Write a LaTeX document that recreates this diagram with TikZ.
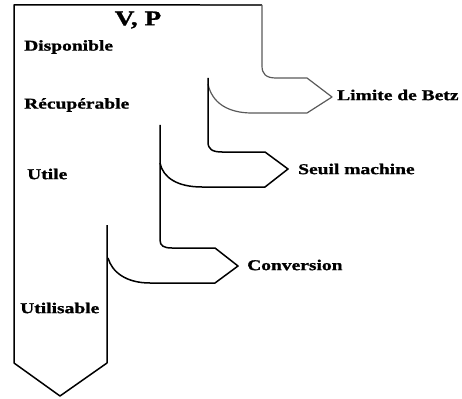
\documentclass[tikz,border=0pt]{standalone}
\usepackage{fontspec}
\newfontfamily\widefont[FakeStretch=1.3, BoldFeatures={FakeBold=1.2}]{Liberation Serif}
\begin{document}
\begin{tikzpicture}[x=1pt,y=-1pt,
  lbl/.style={font=\widefont\bfseries\fontsize{15}{16}\selectfont, inner sep=0pt, anchor=west},
  blk/.style={draw=black, line width=1.5pt, line join=round},
  gry/.style={draw=black!65, line width=1.2pt, line join=round}]
\useasboundingbox (0,0) rectangle (462,398);
% title and labels
\node[font=\widefont\bfseries\fontsize{21}{22}\selectfont, inner sep=0pt] (vp) at (138,20) {V, P};
\node[lbl] (disp) at (24,47) {Disponible};
\node[lbl] (recup) at (24,105) {Récupérable};
\node[lbl] (utile) at (27,174) {Utile};
\node[lbl] (utilis) at (20,308) {Utilisable};
\node[lbl] (betz) at (337,95) {Limite de Betz};
\node[lbl] (seuil) at (298,169) {Seuil machine};
\node[lbl] (conv) at (247,265) {Conversion};
% main outline
\draw[blk] (107,225) -- (107,363) -- (60,396) -- (14,363) -- (14,5) -- (200,5);
\draw[draw=black!75, line width=1.4pt] (200,5) -- (262,5);
% Betz branch
\draw[gry] (262,5) -- (262,66) .. controls (262,74) and (266,78) .. (276,78) -- (307,78) -- (332,97) -- (307,113) -- (252,113) .. controls (228,113) and (212,103) .. (208,84);
% Seuil branch
\draw[blk] (208,78) -- (208,142) .. controls (208,149) and (212,152) .. (222,152) -- (265,152) -- (288,169) -- (265,187) -- (202,187) .. controls (178,187) and (163,178) .. (160,163);
% Conversion branch
\draw[blk] (160,125) -- (160,240) .. controls (160,246) and (164,248) .. (172,248) -- (215,248) -- (238,266) -- (215,283) -- (150,283) .. controls (126,283) and (112,272) .. (108,258);
\end{tikzpicture}
\end{document}
